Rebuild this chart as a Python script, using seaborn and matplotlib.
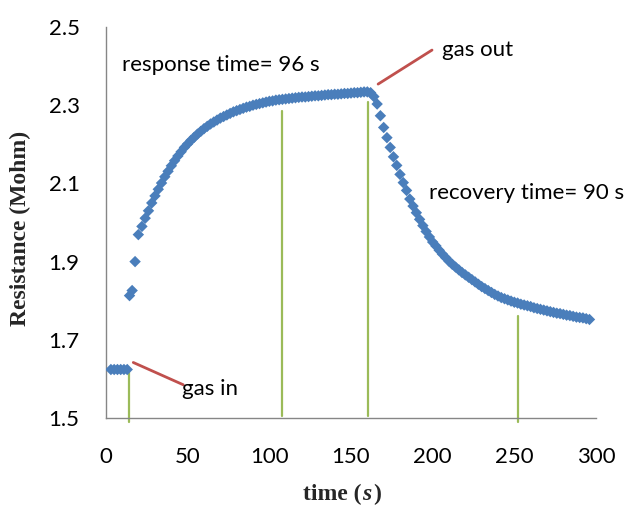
import matplotlib
matplotlib.use("Agg")
import matplotlib.pyplot as plt
import seaborn as sns
import pandas as pd

# ---- data ----
time_s = [3, 5, 7, 9, 11, 13, 14.4, 16, 17.8, 19.8,
          22, 24, 26, 28, 30, 32, 34, 36, 38, 40, 42, 44, 46, 48, 50, 52, 54, 56, 58, 60,
          62, 64, 66, 68, 70, 72, 74, 76, 78, 80, 82, 84, 86, 88, 90, 92, 94, 96, 98, 100,
          102, 104, 106, 108, 110, 112, 114, 116, 118, 120, 122, 124, 126, 128, 130, 132,
          134, 136, 138, 140, 142, 144, 146, 148, 150, 152, 154, 156, 158, 160, 162, 164,
          166, 168, 170, 172, 174, 176, 178, 180, 182, 184, 186, 188, 190, 192, 194, 196,
          198, 200, 202, 204, 206, 208, 210, 212, 214, 216, 218, 220, 222, 224, 226, 228,
          230, 232, 234, 236, 238, 240, 242, 244, 246, 248, 250, 252, 254, 256, 258, 260,
          262, 264, 266, 268, 270, 272, 274, 276, 278, 280, 282, 284, 286, 288, 290, 292,
          294, 296]
resistance = [1.624, 1.624, 1.624, 1.624, 1.624, 1.624, 1.813, 1.826, 1.900, 1.969,
              1.990, 2.011, 2.030, 2.050, 2.068, 2.085, 2.101, 2.117, 2.131, 2.145, 2.158,
              2.170, 2.181, 2.192, 2.201, 2.210, 2.218, 2.226, 2.233, 2.240,
              2.246, 2.252, 2.257, 2.262, 2.267, 2.271, 2.275, 2.279, 2.283, 2.286, 2.289,
              2.292, 2.295, 2.297, 2.300, 2.302, 2.304, 2.306, 2.308, 2.310,
              2.311, 2.313, 2.314, 2.315, 2.316, 2.317, 2.318, 2.319, 2.320, 2.321, 2.321,
              2.322, 2.323, 2.324, 2.324, 2.325,
              2.326, 2.327, 2.327, 2.328, 2.328, 2.329, 2.330, 2.330, 2.331, 2.332, 2.332,
              2.333, 2.334, 2.334, 2.332, 2.322,
              2.303, 2.273, 2.243, 2.217, 2.192, 2.168, 2.146, 2.123, 2.102, 2.082, 2.060,
              2.042, 2.025, 2.008, 1.992, 1.977,
              1.963, 1.950, 1.940, 1.929, 1.919, 1.910, 1.901, 1.893, 1.886, 1.879, 1.872,
              1.866, 1.860, 1.854, 1.848, 1.842,
              1.836, 1.831, 1.826, 1.821, 1.816, 1.812, 1.808, 1.805, 1.802, 1.799, 1.796,
              1.794, 1.791, 1.789, 1.787, 1.785,
              1.782, 1.780, 1.778, 1.776, 1.774, 1.772, 1.770, 1.768, 1.767, 1.765, 1.763,
              1.762, 1.760, 1.758, 1.757, 1.756,
              1.754, 1.752]

x_ticks = [0, 50, 100, 150, 200, 250, 300]
y_ticks = [1.5, 1.7, 1.9, 2.1, 2.3, 2.5]
y_tick_labels = ["1.5", "1.7", "1.9", "2.1", "2.3", "2.5"]

# vertical marker lines: x, y bottom, y top
green_x = [14.3, 107.8, 160.6, 252.5]
green_bottom = [1.490, 1.505, 1.505, 1.490]
green_top = [1.623, 2.285, 2.307, 1.762]

# red pointer lines
red_x0 = [16.7, 166.6]
red_y0 = [1.642, 2.354]
red_x1 = [47.3, 199.6]
red_y1 = [1.585, 2.441]

labels = ["response time= 96 s", "gas out", "recovery time= 90 s", "gas in"]
label_x = [9.8, 205.7, 197.8, 46.5]
label_y = [2.387, 2.426, 2.059, 1.559]

# ---- plot ----
sns.set_theme(style="white")
plt.rcParams["font.family"] = ["Lato", "DejaVu Sans"]

fig = plt.figure(figsize=(6.33, 5.08), dpi=100)
ax = fig.add_axes([106 / 633, 1 - 418 / 508, (596 - 106) / 633, (418 - 27) / 508])

df = pd.DataFrame({"time": time_s, "R": resistance})

for xg, yb, yt in zip(green_x, green_bottom, green_top):
    ax.plot([xg, xg], [yb, yt], color="#9BBB59", lw=1.6, clip_on=False, zorder=2)

sns.scatterplot(data=df, x="time", y="R", marker="D", s=34, color="#4A7EBB",
                edgecolor="none", linewidth=0, ax=ax, zorder=3, legend=False)

for a, b, c, d in zip(red_x0, red_y0, red_x1, red_y1):
    ax.plot([a, c], [b, d], color="#C0504D", lw=2.0, clip_on=False, zorder=4)

for t, xx, yy in zip(labels, label_x, label_y):
    ax.text(xx, yy, t, fontsize=16, color="black", ha="left", va="baseline", zorder=5)

ax.set_xlim(0, 300)
ax.set_ylim(1.5, 2.5)
ax.set_xticks(x_ticks)
ax.set_yticks(y_ticks)
ax.set_yticklabels(y_tick_labels)
ax.tick_params(axis="both", which="both", length=0, labelsize=16, colors="black")
ax.tick_params(axis="x", pad=21)
ax.tick_params(axis="y", pad=19)

for s in ["top", "right"]:
    ax.spines[s].set_visible(False)
for s in ["left", "bottom"]:
    ax.spines[s].set_color("#868686")
    ax.spines[s].set_linewidth(1.0)

ax.set_xlabel("")
ax.set_ylabel("")

# x-axis title "time (s)" with an italic s, built from three text pieces
serif = "Liberation Serif"
t1 = fig.text(303 / 633, 1 - 500 / 508, "time (", ha="left", va="baseline",
              fontsize=17, fontweight="bold", family=serif)
t2 = fig.text(0, 0, "s", fontsize=17, fontweight="bold", fontstyle="italic", family=serif)
t3 = fig.text(0, 0, ")", fontsize=17, fontweight="bold", family=serif)
fig.canvas.draw()
r = fig.canvas.get_renderer()
inv = fig.transFigure.inverted()
bb1 = t1.get_window_extent(r)
x_after = inv.transform((bb1.x1, 0))[0]
t2.set_position((x_after + 1 / 633, 1 - 500 / 508))
t2.set_va("baseline")
fig.canvas.draw()
bb2 = t2.get_window_extent(r)
x_after2 = inv.transform((bb2.x1, 0))[0]
t3.set_position((x_after2 + 1 / 633, 1 - 500 / 508))
t3.set_va("baseline")

fig.text(20 / 633, 1 - 228 / 508, "Resistance (Mohm)", ha="center", va="center",
         rotation=90, fontsize=17, fontweight="bold", family=serif)

fig.savefig("out.png", dpi=100, facecolor="white")
